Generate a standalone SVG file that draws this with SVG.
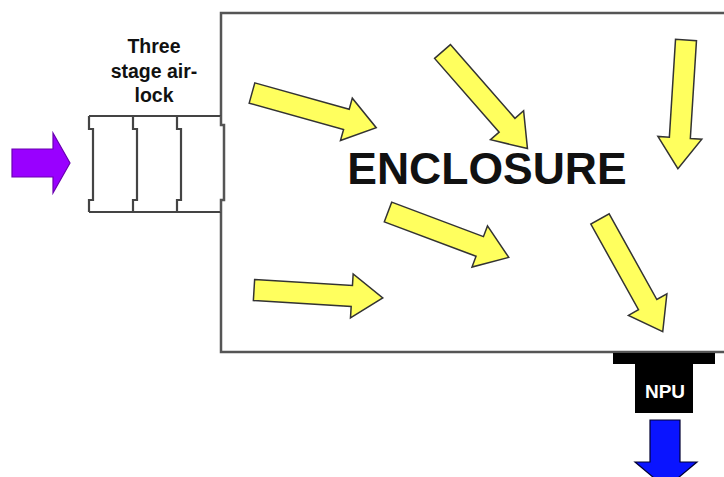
<svg xmlns="http://www.w3.org/2000/svg" xmlns:xlink="http://www.w3.org/1999/xlink" width="724" height="477" viewBox="0 0 724 477">
<style>
.wall{fill:none;stroke:#555;stroke-width:2.5}
.lock{fill:none;stroke:#444;stroke-width:2.2}
.ya{fill:#ffff5e;stroke:#333;stroke-width:1.5;stroke-linejoin:miter}
.lbl{font-family:"Liberation Sans",Arial,sans-serif;font-weight:bold;text-anchor:middle}
</style>
<defs>
<polygon id="yarrow" points="0,-10.5 98,-10.5 98,-22 129,0 98,22 98,10.5 0,10.5"/>
</defs>
<rect width="724" height="477" fill="#fff"/>
<g id="enclosure">
<path class="wall" d="M730,13 H221 V116 M221,212 V352 H730"/>
<text class="lbl" x="487" y="184" font-size="44.5" fill="#111">ENCLOSURE</text>
</g>
<g id="airlock">
<path class="lock" d="M89,116 H221 M89,212 H221"/>
<path class="lock" d="M89,116 V129 H93 V200 H89 V212"/>
<path class="lock" d="M133,116 V129 H137 V200 H133 V212"/>
<path class="lock" d="M177,116 V129 H181 V200 H177 V212"/>
<path class="wall" d="M221,116 V125 H224 V200 H221 V212"/>
<text class="lbl" font-size="19.5" fill="#111"><tspan x="154" y="53">Three</tspan><tspan x="154" y="77.5">stage air-</tspan><tspan x="154" y="102">lock</tspan></text>
</g>
<g id="inlet">
<polygon points="12,149 53,149 53,133 70,163 53,193 53,177 12,177" fill="#9900ff" stroke="#6a00b0" stroke-width="1.2"/>
</g>
<g id="npu">
<rect x="613" y="353" width="102" height="11" fill="#000"/>
<rect x="635" y="353" width="58" height="60" fill="#000"/>
<text class="lbl" x="665" y="398" font-size="19" fill="#fff">NPU</text>
</g>
<g id="outlet">
<polygon points="650,420 680,420 680,462 697,462 666,488 635,462 650,462" fill="#0a14ff" stroke="#000033" stroke-width="1.2"/>
</g>
<g id="connectors">
<use xlink:href="#yarrow" class="ya" transform="translate(252,93) rotate(15.6)"/>
<use xlink:href="#yarrow" class="ya" transform="translate(442.5,51.5) rotate(48.8)"/>
<use xlink:href="#yarrow" class="ya" transform="translate(686,40) rotate(93.6)"/>
<use xlink:href="#yarrow" class="ya" transform="translate(388,212) rotate(20.6)"/>
<use xlink:href="#yarrow" class="ya" transform="translate(254,290) rotate(3.5)"/>
<use xlink:href="#yarrow" class="ya" transform="translate(600,219) rotate(60.9)"/>
</g>
</svg>
